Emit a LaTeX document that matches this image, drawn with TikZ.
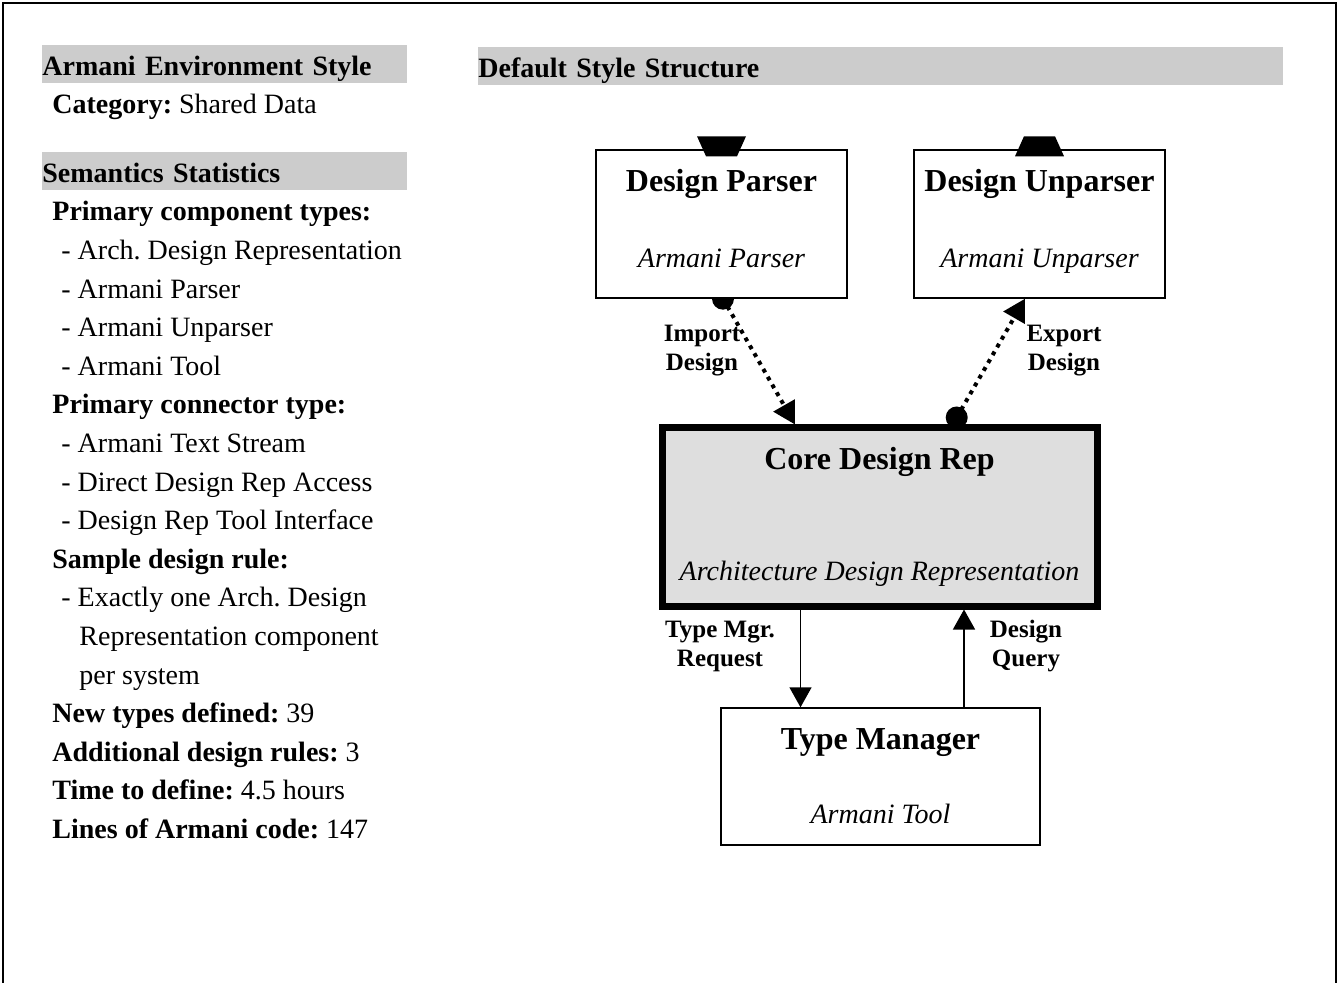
\documentclass[tikz,border=0pt]{standalone}
\usepackage{fontspec}
\setmainfont{Liberation Serif}
\frenchspacing
\usetikzlibrary{arrows.meta}

\begin{document}
\begin{tikzpicture}[x=0.5pt,y=-0.5pt]
	\tikzstyle{every node}=[inner sep=0pt]
	\tikzset{component/.style={draw,rectangle,line width=0.7pt,fill=white,align=center,font=\fontsize{16}{20}\selectfont}}
	\tikzset{header/.style={fill=black!20,anchor=west,text width=#1,align=left,text height=15.5pt,text depth=3.5pt,font=\fontsize{14}{17}\selectfont\bfseries}}
	\tikzset{linklabel/.style={align=center,font=\fontsize{12.5}{14.5}\selectfont\bfseries}}
	\tikzset{stream/.style={line width=2pt,dash pattern=on 2pt off 2.5pt,-{Triangle[length=11pt,width=12pt]}}}
	\tikzset{call/.style={line width=0.7pt,-{Triangle[length=10pt,width=11pt]}}}
	\useasboundingbox (0,0) rectangle (1338,983);
	\draw[line width=1pt] (3,983) -- (3,3) -- (1336,3) -- (1336,983);

	\node[header=182.5pt] (envhead) at (42,64) {Armani Environment Style};
	\node[anchor=west,font=\fontsize{14}{17}\selectfont] (category) at (52,107) {\textbf{Category:} Shared Data};
	\node[header=182.5pt] (semhead) at (42,171) {Semantics Statistics};
	\node[anchor=north west,align=left,font=\fontsize{14}{19.3}\selectfont] (stats) at (52,201) {
		\textbf{Primary component types:}\\
		\hspace*{4.5pt}- Arch. Design Representation\\
		\hspace*{4.5pt}- Armani Parser\\
		\hspace*{4.5pt}- Armani Unparser\\
		\hspace*{4.5pt}- Armani Tool\\
		\textbf{Primary connector type:}\\
		\hspace*{4.5pt}- Armani Text Stream\\
		\hspace*{4.5pt}- Direct Design Rep Access\\
		\hspace*{4.5pt}- Design Rep Tool Interface\\
		\textbf{Sample design rule:}\\
		\hspace*{4.5pt}- Exactly one Arch. Design\\
		\hspace*{13.5pt}Representation component\\
		\hspace*{13.5pt}per system\\
		\textbf{New types defined:} 39\\
		\textbf{Additional design rules:} 3\\
		\textbf{Time to define:} 4.5 hours\\
		\textbf{Lines of Armani code:} 147};
	\node[header=402.5pt] (structhead) at (478,66) {Default Style Structure};

	\node[component,minimum width=125.5pt,minimum height=74pt,text depth=6pt] (parser) at (721.5,224)
		{\textbf{Design Parser}\\[18pt]{\fontsize{14}{17}\selectfont\itshape Armani Parser}};
	\node[component,minimum width=125.5pt,minimum height=74pt,text depth=6pt] (unparser) at (1039.5,224)
		{\textbf{Design Unparser}\\[18pt]{\fontsize{14}{17}\selectfont\itshape Armani Unparser}};
	\node[component,line width=3.5pt,fill=black!13,minimum width=217.5pt,minimum height=89pt] (core) at (879.5,517)
		{\textbf{Core Design Rep}\\[35.5pt]{\fontsize{14}{17}\selectfont\itshape Architecture Design Representation}};
	\node[component,minimum width=159.5pt,minimum height=68.5pt] (typemgr) at (880.5,776.5)
		{\textbf{Type Manager}\\[17pt]{\fontsize{14}{17}\selectfont\itshape Armani Tool}};

	\fill[shift={(parser.north)}] (-24.5,-13) -- (24.5,-13) -- (15.5,7) -- (-15.5,7) -- cycle;
	\fill[shift={(unparser.north)}] (-15.5,-13) -- (15.5,-13) -- (24.5,7) -- (-24.5,7) -- cycle;
	\fill ([xshift=0.75pt]parser.south) ++(-11,0) arc[start angle=180,end angle=360,radius=5.5pt] -- cycle;
	\fill ([xshift=38.6pt,yshift=3.5pt]core.north) circle[radius=5.5pt];

	\draw[stream] ([xshift=0.75pt]parser.south) -- ([xshift=-42.25pt]core.north);
	\draw[stream] ([xshift=38.6pt,yshift=3.5pt]core.north) -- ([xshift=-7.25pt]unparser.south);
	\draw[call] ([xshift=-39.5pt]core.south) -- ([xshift=-40pt]typemgr.north);
	\draw[call] ([xshift=41.75pt]typemgr.north) -- ([xshift=42.25pt]core.south);

	\node[linklabel] (import) at (702,351) {Import\\Design};
	\node[linklabel] (export) at (1064,351) {Export\\Design};
	\node[linklabel] (request) at (720,646) {Type Mgr.\\Request};
	\node[linklabel] (query) at (1026,646) {Design\\Query};
\end{tikzpicture}
\end{document}
